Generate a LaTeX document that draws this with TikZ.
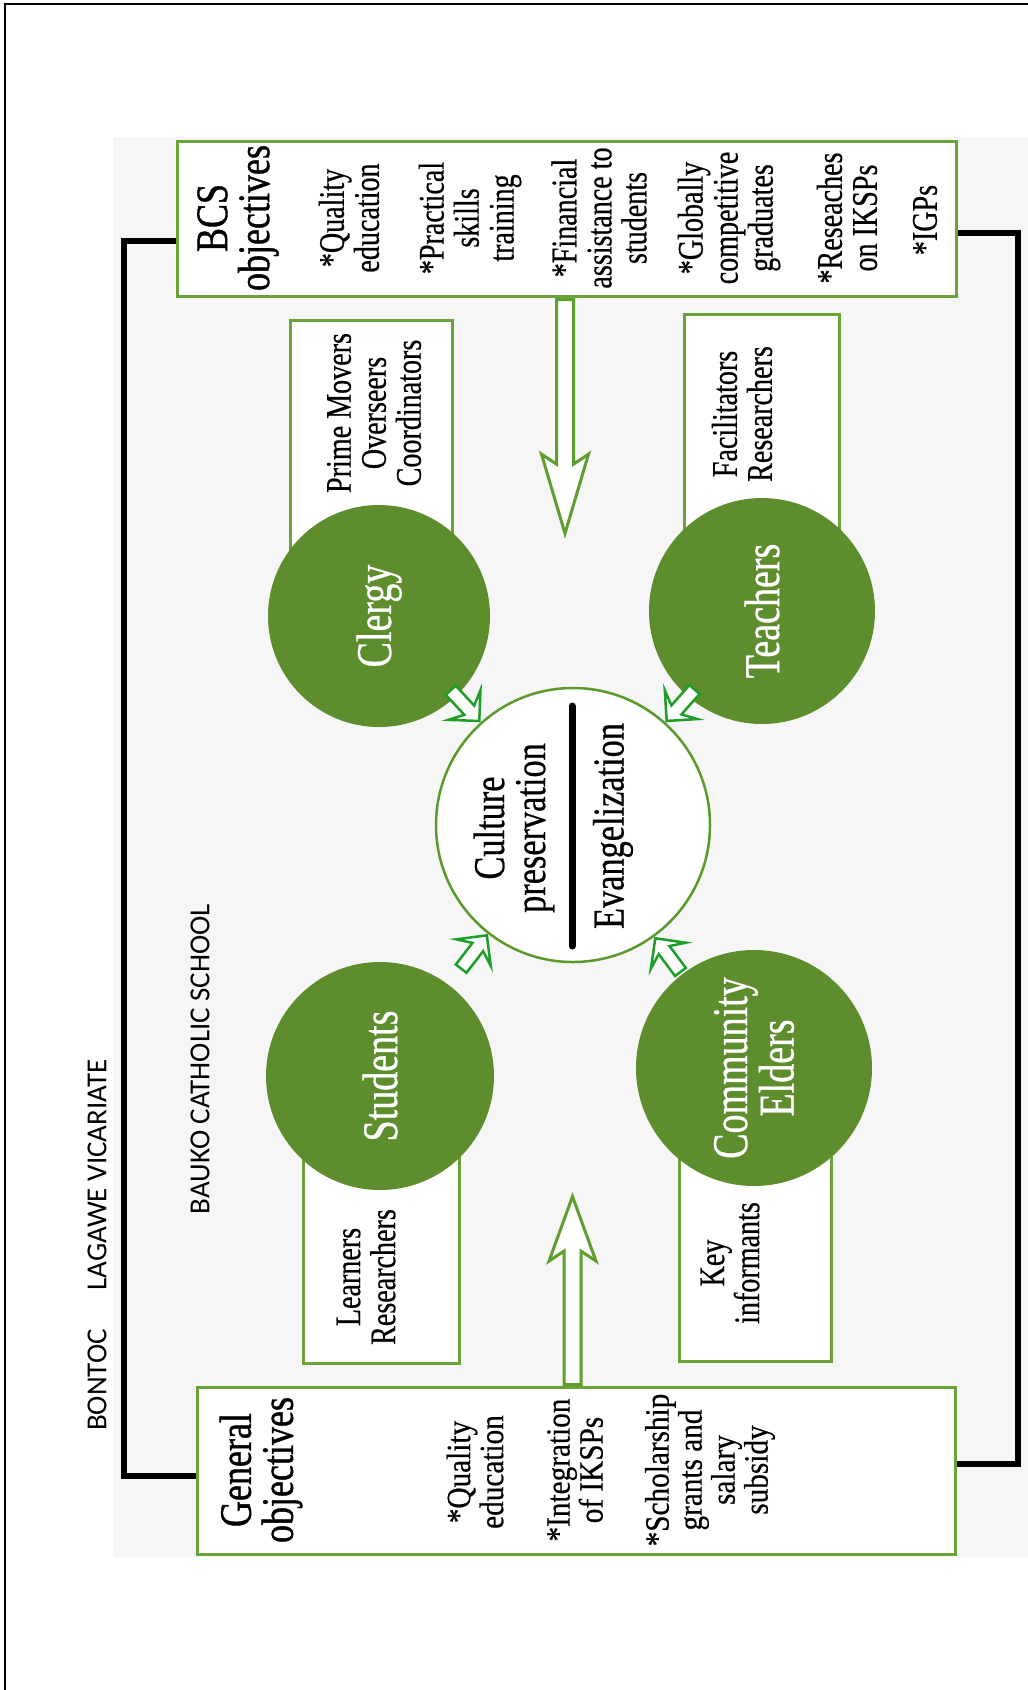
\documentclass[tikz,border=0pt]{standalone}
\usepackage{fontspec}
\setmainfont{Liberation Serif}
\newfontfamily\serS[FakeStretch=0.78,FakeBold=0.5]{Liberation Serif}
\newfontfamily\serT[FakeStretch=0.8,FakeBold=0.9]{Liberation Serif}
\newfontfamily\serC[FakeStretch=0.76,FakeBold=0.6]{Liberation Serif}
\newfontfamily\serG[FakeStretch=0.86,FakeBold=0.5]{Liberation Serif}
\newfontfamily\labfont{Carlito}
\usetikzlibrary{shapes.arrows,calc}
\definecolor{circfill}{HTML}{5E8D2D}
\definecolor{boxgreen}{HTML}{6AA339}
\definecolor{arrgreen}{HTML}{5E9E2E}
\definecolor{brgreen}{HTML}{1E9E28}
\definecolor{cgreen}{HTML}{5A9A2A}
\definecolor{bggray}{HTML}{F6F6F6}
\tikzset{
  gbox/.style={rectangle, draw=boxgreen, line width=3pt, fill=white, inner sep=0pt, anchor=north west},
  circ/.style={circle, fill=circfill, inner sep=0pt, text=white, rotate=90, align=center,
    font=\serC\fontsize{50}{43}\selectfont},
  itm/.style={rotate=90, align=center, inner sep=0pt, font=\serS\fontsize{36}{35}\selectfont},
  headtxt/.style={rotate=90, align=center, inner sep=0pt, font=\serT\fontsize{45}{42}\selectfont},
  gitm/.style={rotate=90, align=center, inner sep=0pt, font=\serG\fontsize{34}{33}\selectfont},
  ctext/.style={rotate=90, align=center, inner sep=0pt, font=\serS\fontsize{44}{41}\selectfont},
  lbl/.style={rotate=90, inner sep=0pt, font=\labfont\fontsize{29}{34}\selectfont},
  conn/.style={line width=6pt, line join=miter},
  bigarrow/.style={single arrow, draw=arrgreen, line width=3pt, fill=white,
    inner xsep=0pt, inner ysep=7pt, single arrow head extend=15pt,
    single arrow head indent=10pt, anchor=tail},
  smarrow/.style={single arrow, draw=brgreen, line width=2.5pt, fill=white,
    inner xsep=0pt, inner ysep=5.5pt, single arrow head extend=15pt,
    single arrow head indent=7pt, single arrow tip angle=90,
    minimum height=42pt, anchor=tip}
}
\begin{document}
\begin{tikzpicture}[x=1pt,y=-1pt]
\useasboundingbox (0,0) rectangle (1028,1690);
\fill[bggray] (113,137) rectangle (1028,1557);
\draw[line width=2.5pt] (5,1690) -- (5,4) -- (1028,4);

% boxes
\node[gbox, minimum width=779pt, minimum height=155pt] (bcs) at (176,140) {};
\node[gbox, minimum width=758pt, minimum height=167pt] (gen) at (196,1386) {};
\node[gbox, minimum width=162pt, minimum height=241pt] (prime) at (289,319) {};
\node[gbox, minimum width=155pt, minimum height=247pt] (facil) at (683,313) {};
\node[gbox, minimum width=156pt, minimum height=232pt] (learn) at (302,1130) {};
\node[gbox, minimum width=152pt, minimum height=230pt] (keyb) at (678,1130) {};

% black connectors
\draw[conn] ([yshift=-22pt]bcs.west) -- ++(-52,0) |- ([yshift=-5pt]gen.west);
\draw[conn] ([yshift=-14pt]bcs.east) -- ++(60,0) |- ([yshift=7pt]gen.east);

% big arrows
\node[bigarrow, rotate=-90, minimum height=234pt, single arrow tip angle=33] (darr) at ([xshift=-2pt]bcs.south) {};
\node[bigarrow, rotate=90, minimum height=188pt, single arrow tip angle=40] (uarr) at ([xshift=-4pt]gen.north) {};

% circles
\node[circ, minimum size=222pt] (clergy) at (379,616) {Clergy};
\node[circ, minimum size=226pt] (teach) at (762,611) {Teachers};
\node[circ, minimum size=228pt] (stud) at (380,1076) {Students};
\node[circ, minimum size=236pt] (elder) at (754,1068) {Community\\Elders};
\node[circle, draw=cgreen, line width=2.5pt, fill=white, minimum size=274pt, inner sep=0pt] (cen) at (573,825) {};

% small arrows
\node[smarrow, rotate=-47.1] (a1) at (cen.132.9) {};
\node[smarrow, rotate=228.5] (a2) at (cen.48.5) {};
\node[smarrow, rotate=52.4] (a3) at (cen.232.4) {};
\node[smarrow, rotate=126.7] (a4) at (cen.306.7) {};

% central text
\node[ctext] (cult) at (514,828) {Culture\\preservation};
\node[ctext] (evan) at (613,826) {Evangelization};
\coordinate (bart) at (572,706);
\coordinate (barb) at (572,946);
\draw[line width=7pt, line cap=round] (bart) -- (barb);

% BCS box texts
\node[headtxt] (bcsh) at (238,218) {BCS\\objectives};
\node[itm] (b1) at (349,218) {*Quality\\education};
\node[itm] (b2) at (470,218) {*Practical\\skills\\training};
\node[itm] (b3) at (599,218) {*Financial\\assistance to\\students};
\node[itm] (b4) at (729,218) {*Globally\\competitive\\graduates};
\node[itm] (b5) at (847,218) {*Reseaches\\on IKSPs};
\node[itm] (b6) at (925,220) {*IGPs};

% General box texts
\node[headtxt] (genh) at (261,1470) {General\\objectives};
\node[gitm] (g1) at (475,1472) {*Quality\\education};
\node[gitm] (g2) at (575,1470) {*Integration\\of IKSPs};
\node[gitm] (g3) at (710,1470) {*Scholarship\\grants and\\salary\\subsidy};

% role boxes texts
\node[itm] (t1) at (374,413) {Prime Movers\\Overseers\\Coordinators};
\node[itm] (t2) at (742,414) {Facilitators\\Researchers};
\node[itm] (t3) at (366,1277) {Learners\\Researchers};
\node[itm] (t4) at (730,1263) {Key\\informants};

% side labels
\node[lbl] (bontoc) at (97,1380) {BONTOC};
\node[lbl] (lagawe) at (97,1175) {LAGAWE VICARIATE};
\node[lbl] (bauko) at (200,1059) {BAUKO CATHOLIC SCHOOL};
\end{tikzpicture}
\end{document}
